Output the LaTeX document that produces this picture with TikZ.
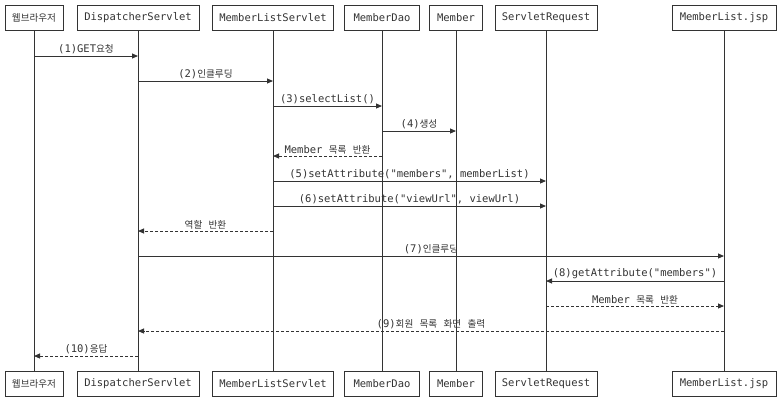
\documentclass[tikz,border=0pt]{standalone}
\usepackage{fontspec}
\setmainfont{DejaVu Sans Mono}[Ligatures=TeXOff]
\newfontfamily\krfont{Noto Sans CJK KR}
\newcommand{\kr}[1]{{\krfont\fontsize{9.6pt}{11pt}\selectfont #1}}
\usetikzlibrary{arrows.meta}
\definecolor{ink}{HTML}{333333}
\tikzset{
  x=1pt, y=-1pt,
  box/.style={draw=ink, line width=0.9pt, minimum height=25pt, inner sep=0pt, text=ink, font=\fontsize{10.5pt}{12pt}\selectfont},
  lifeline/.style={draw=ink, line width=0.9pt},
  msg/.style={draw=ink, line width=0.9pt, -{Triangle[length=6pt,width=5pt]}},
  ret/.style={msg, dash pattern=on 3pt off 2pt},
  lbl/.style={above, inner sep=1.5pt, text=ink, font=\fontsize{10.5pt}{12pt}\selectfont}
}
\begin{document}
\begin{tikzpicture}
\useasboundingbox (0,0) rectangle (784,402);
% top boxes
\node[box, minimum width=58pt] (t1) at (34,17.5) {\kr{웹브라우저}};
\node[box, minimum width=122pt] (t2) at (138,17.5) {DispatcherServlet};
\node[box, minimum width=121pt] (t3) at (273,17.5) {MemberListServlet};
\node[box, minimum width=75pt] (t4) at (382,17.5) {MemberDao};
\node[box, minimum width=53pt] (t5) at (456,17.5) {Member};
\node[box, minimum width=102pt] (t6) at (546,17.5) {ServletRequest};
\node[box, minimum width=104pt] (t7) at (724,17.5) {MemberList.jsp};
% bottom boxes
\node[box, minimum width=58pt] (b1) at (34,383.5) {\kr{웹브라우저}};
\node[box, minimum width=122pt] (b2) at (138,383.5) {DispatcherServlet};
\node[box, minimum width=121pt] (b3) at (273,383.5) {MemberListServlet};
\node[box, minimum width=75pt] (b4) at (382,383.5) {MemberDao};
\node[box, minimum width=53pt] (b5) at (456,383.5) {Member};
\node[box, minimum width=102pt] (b6) at (546,383.5) {ServletRequest};
\node[box, minimum width=104pt] (b7) at (724,383.5) {MemberList.jsp};
% lifelines
\foreach \i in {1,...,7} {\draw[lifeline] (t\i.south) -- (b\i.north);}
% message levels
\foreach \k/\yy in {1/56,2/81,3/106,4/131,r1/156,5/181,6/206,r2/231,7/256,8/281,r3/306,9/331,10/356}
  {\coordinate (y\k) at (0,\yy);}
\draw[msg] (t1 |- y1) -- node[lbl] {(1)GET\kr{요청}} (t2 |- y1);
\draw[msg] (t2 |- y2) -- node[lbl] {(2)\kr{인클루딩}} (t3 |- y2);
\draw[msg] (t3 |- y3) -- node[lbl] {(3)selectList()} (t4 |- y3);
\draw[msg] (t4 |- y4) -- node[lbl] {(4)\kr{생성}} (t5 |- y4);
\draw[ret] (t4 |- yr1) -- node[lbl] {Member \kr{목록} \kr{반환}} (t3 |- yr1);
\draw[msg] (t3 |- y5) -- node[lbl] {(5)setAttribute("members", memberList)} (t6 |- y5);
\draw[msg] (t3 |- y6) -- node[lbl] {(6)setAttribute("viewUrl", viewUrl)} (t6 |- y6);
\draw[ret] (t3 |- yr2) -- node[lbl] {\kr{역할} \kr{반환}} (t2 |- yr2);
\draw[msg] (t2 |- y7) -- node[lbl] {(7)\kr{인클루딩}} (t7 |- y7);
\draw[msg] (t7 |- y8) -- node[lbl] {(8)getAttribute("members")} (t6 |- y8);
\draw[ret] (t6 |- yr3) -- node[lbl] {Member \kr{목록} \kr{반환}} (t7 |- yr3);
\draw[ret] (t7 |- y9) -- node[lbl] {(9)\kr{회원} \kr{목록} \kr{화면} \kr{출력}} (t2 |- y9);
\draw[ret] (t2 |- y10) -- node[lbl] {(10)\kr{응답}} (t1 |- y10);
\end{tikzpicture}
\end{document}
